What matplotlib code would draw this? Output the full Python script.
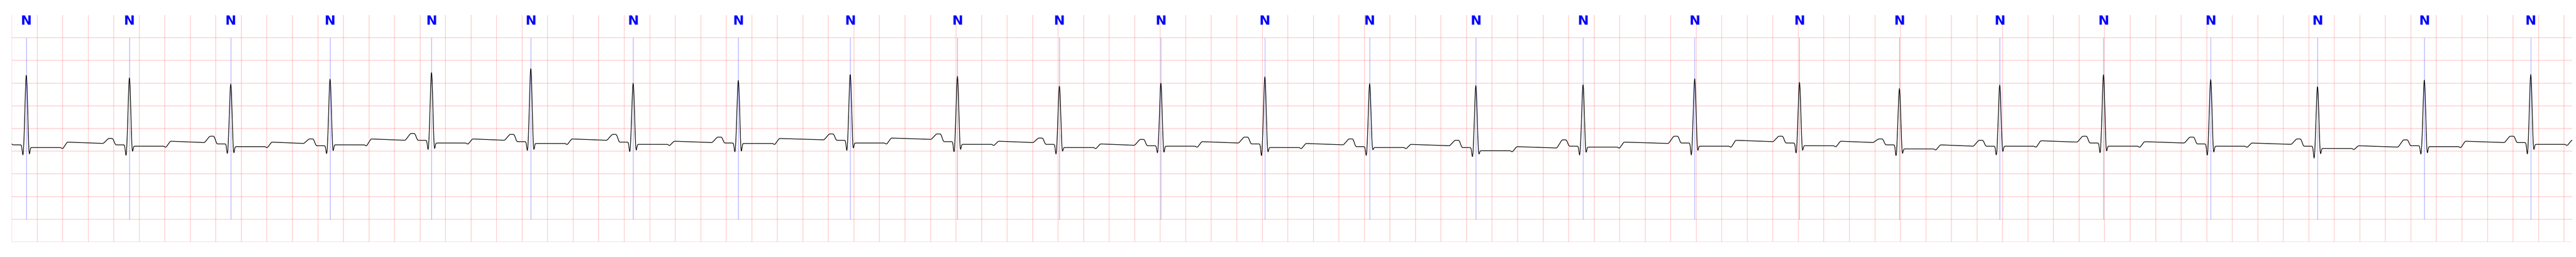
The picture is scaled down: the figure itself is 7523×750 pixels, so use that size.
import numpy as np
import matplotlib
matplotlib.use("Agg")
import matplotlib.pyplot as plt

# ---- data (time in s, amplitude in mV) ----
beat_times = [0.115, 0.923, 1.717, 2.495, 3.290, 4.068, 4.870, 5.694, 6.571, 7.411,
              8.210, 9.005, 9.820, 10.641, 11.473, 12.313, 13.188, 14.009, 14.792, 15.578,
              16.391, 17.231, 18.068, 18.905, 19.739]
beat_labels = ["N"] * 25
r_peak = [1.18, 1.12, 0.98, 1.09, 1.24, 1.33, 1.00, 1.06, 1.20, 1.15,
          0.94, 1.00, 1.14, 0.99, 0.95, 0.97, 1.10, 1.02, 0.88, 0.96,
          1.19, 1.08, 0.93, 1.07, 1.19]
q_trough = [-0.58, -0.59, -0.55, -0.55, -0.46, -0.48, -0.51, -0.51, -0.48, -0.51,
            -0.56, -0.53, -0.60, -0.59, -0.62, -0.58, -0.58, -0.54, -0.60, -0.58,
            -0.53, -0.59, -0.65, -0.56, -0.56]
s_trough = [-0.53, -0.47, -0.51, -0.46, -0.41, -0.43, -0.45, -0.48, -0.40, -0.43,
            -0.47, -0.50, -0.48, -0.43, -0.53, -0.50, -0.45, -0.45, -0.52, -0.48,
            -0.46, -0.49, -0.53, -0.51, -0.43]
st_level = [-0.42, -0.39, -0.40, -0.36, -0.32, -0.33, -0.35, -0.33, -0.32, -0.35,
            -0.42, -0.39, -0.42, -0.42, -0.49, -0.41, -0.39, -0.38, -0.45, -0.39,
            -0.39, -0.39, -0.44, -0.40, -0.35]
t_level = [-0.30, -0.28, -0.30, -0.23, -0.23, -0.23, -0.28, -0.22, -0.21, -0.28,
           -0.34, -0.29, -0.33, -0.35, -0.40, -0.30, -0.26, -0.28, -0.36, -0.27,
           -0.29, -0.32, -0.38, -0.28, -0.26]
p_level = [-0.25, -0.22, -0.17, -0.23, -0.11, -0.13, -0.13, -0.19, -0.12, -0.12,
           -0.21, -0.24, -0.19, -0.23, -0.26, -0.25, -0.17, -0.17, -0.23, -0.26,
           -0.17, -0.19, -0.23, -0.25, -0.17]
pr_level = [-0.36, -0.36, -0.34, -0.38, -0.26, -0.29, -0.30, -0.32, -0.26, -0.29,
            -0.35, -0.38, -0.34, -0.40, -0.42, -0.39, -0.32, -0.32, -0.36, -0.39,
            -0.32, -0.34, -0.39, -0.38, -0.31]

fs = 360.0
n_samples = 7224

# ---- build the trace from the per-beat readings ----
t = np.arange(n_samples) / fs
kt, kv = [], []
for i, r in enumerate(beat_times):
    prev_plateau = (t_level[i - 1] if i > 0 else p_level[0]) - 0.03
    pts = [(r - 0.205, prev_plateau),
           (r - 0.165, p_level[i]), (r - 0.13, p_level[i]),
           (r - 0.11, pr_level[i]), (r - 0.035, pr_level[i]),
           (r + 0.035, st_level[i]), (r + 0.27, st_level[i]),
           (r + 0.285, st_level[i] - 0.03), (r + 0.32, t_level[i])]
    for a, b in pts:
        kt.append(a)
        kv.append(b)
base = np.interp(t, kt, kv)
k = 5
pad = np.pad(base, (k // 2, k // 2), mode="edge")
base = np.convolve(pad, np.ones(k) / k, mode="valid")

sig = base.copy()
for i, r in enumerate(beat_times):
    cen = np.array([r - 0.026, r, r + 0.022])
    sd = np.array([0.0055, 0.0095, 0.0055])
    target = np.array([q_trough[i], r_peak[i], s_trough[i]])
    G = np.exp(-0.5 * ((cen[:, None] - cen[None, :]) / sd[None, :]) ** 2)
    amp = np.linalg.solve(G, target - np.interp(cen, t, base))
    for c, s_, a in zip(cen, sd, amp):
        sig += a * np.exp(-0.5 * ((t - c) / s_) ** 2)

# ---- figure ----
W, H = 7523, 750
fig = plt.figure(figsize=(W / 100, H / 100), dpi=100)
ax = fig.add_axes([34 / W, 44 / H, (7512 - 34) / W, 662 / H])
ax.set_xlim(0, t[-1])
ax.set_ylim(-2.5, 2.5)
ax.set_xticks(np.arange(0, 20.001, 0.2))
ax.set_yticks(np.arange(-2.5, 2.01, 0.5))
ax.grid(True, color="red", alpha=0.25, linewidth=1.2)
ax.tick_params(length=0, labelbottom=False, labelleft=False)
for sp in ax.spines.values():
    sp.set_visible(False)
ax.set_axisbelow(True)

ax.plot(t, sig, color="black", linewidth=1.4, zorder=3)
ax.vlines(beat_times, -2.0, 2.0, color="blue", alpha=0.5, linewidth=0.8, zorder=2)
for bt, lab in zip(beat_times, beat_labels):
    ax.text(bt, 2.29, lab, ha="center", va="baseline", color="blue",
            fontweight="bold", fontsize=27.6,
            family=["Liberation Sans Narrow", "DejaVu Sans"], zorder=4)

fig.savefig("out.png", dpi=100)
